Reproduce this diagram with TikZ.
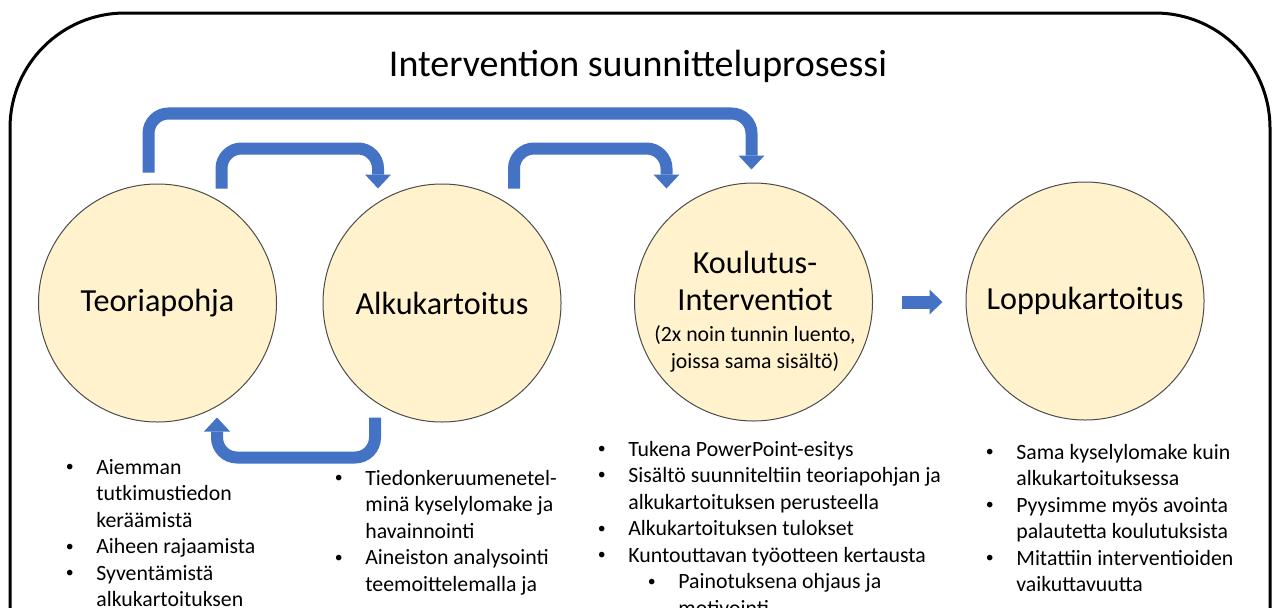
\documentclass[tikz,border=0pt]{standalone}
\usepackage{fontspec}
\setmainfont{Carlito}
\usetikzlibrary{arrows.meta, calc, positioning}
\definecolor{arrowblue}{RGB}{68,114,196}
\definecolor{discfill}{RGB}{255,242,204}
\newcommand{\titlesize}{\fontsize{21.6}{26}\selectfont}
\newcommand{\discsize}{\fontsize{18.3}{21}\selectfont}
\newcommand{\listsize}{\fontsize{12.4}{15.1}\selectfont}
\newcommand{\bul}{\makebox[6.4mm][l]{\hspace{0.3mm}\raisebox{0.25ex}{\fontsize{9}{9}\selectfont\textbullet}}}

\begin{document}
\begin{tikzpicture}[x=0.2mm, y=-0.2mm]
  \tikzset{disc/.style = {shape=circle, draw=black!70, line width=0.2mm, fill=discfill, minimum size=47.6mm, inner sep=0pt, font=\discsize, align=center}}
  \tikzset{bent/.style = {draw=arrowblue, line width=2.4mm, rounded corners=4mm, -{Triangle[width=5.2mm, length=2.8mm, line width=0pt]}}}
  \tikzset{block/.style = {draw=arrowblue, line width=2.6mm, -{Triangle[width=5mm, length=2.6mm, line width=0pt]}}}
  \tikzset{itemlist/.style = {anchor=base west, inner sep=0pt, font=\listsize}}
  \useasboundingbox (0,0) rectangle (1275,607);
  \clip (0,0) rectangle (1275,607);
  % frame and title
  \draw[line width=0.6mm, rounded corners=23mm] (10,13) rectangle (1270,820);
  \node[anchor=base, inner sep=0pt, font=\titlesize] (title) at (638,76) {Intervention suunnitteluprosessi};
  % phases
  \node[disc] (teoria) at (157.5,303) {Teoriapohja};
  \node[disc] (alku) at (442,303) {Alkukartoitus};
  \node[disc] (koul) at (753.5,302) {};
  \node[disc] (loppu) at (1085,301) {Loppukartoitus};
  \node[align=center, inner sep=0pt, font=\fontsize{18.3}{21}\selectfont] (koultitle) at (755,281) {Koulutus-\\Interventiot};
  \node[align=center, inner sep=0pt, font=\listsize] (koulnote) at (755,349) {(2x noin tunnin luento,\\joissa sama sisältö)};
  % arrows
  \draw[bent] ($(teoria.north)+(-9,-11)$) -- ++(0,-59) -| ($(koul.north)+(-2,-13)$);
  \draw[bent] ($(teoria.north)+(64,5)$) -- ++(0,-40) -| ($(alku.north)+(-64,5)$);
  \draw[bent] ($(alku.north)+(72,5)$) -- ++(0,-40) -| ($(koul.north)+(-87,6)$);
  \draw[bent] ($(alku.south)+(-67,-5)$) -- ++(0,40) -| ($(teoria.south)+(59.5,-5)$);
  \draw[block, shorten <=5.8mm, shorten >=4.6mm] (koul.east) -- (koul.east -| loppu.west);
  % bullet lists
  \node[itemlist] (teorialist) at (64,474) {\begin{tabular}[t]{@{}l@{}l@{}}
    \bul & Aiemman\\
    & tutkimustiedon\\
    & keräämistä\\
    \bul & Aiheen rajaamista\\
    \bul & Syventämistä\\
    & alkukartoituksen
  \end{tabular}};
  \node[itemlist] (alkulist) at (333,485) {\begin{tabular}[t]{@{}l@{}l@{}}
    \bul & Tiedonkeruumenetel-\\
    & minä kyselylomake ja\\
    & havainnointi\\
    \bul & Aineiston analysointi\\
    & teemoittelemalla ja
  \end{tabular}};
  \node[itemlist] (koullist) at (596,456) {\begin{tabular}[t]{@{}l@{}l@{}}
    \bul & Tukena PowerPoint-esitys\\
    \bul & Sisältö suunniteltiin teoriapohjan ja\\
    & alkukartoituksen perusteella\\
    \bul & Alkukartoituksen tulokset\\
    \bul & Kuntouttavan työotteen kertausta\\
    & \hspace*{3.6mm}\bul Painotuksena ohjaus ja\\
    & \hspace*{10mm}motivointi
  \end{tabular}};
  \node[itemlist] (loppulist) at (984,459) {\begin{tabular}[t]{@{}l@{}l@{}}
    \bul & Sama kyselylomake kuin\\
    & alkukartoituksessa\\
    \bul & Pyysimme myös avointa\\
    & palautetta koulutuksista\\
    \bul & Mitattiin interventioiden\\
    & vaikuttavuutta
  \end{tabular}};
\end{tikzpicture}
\end{document}
